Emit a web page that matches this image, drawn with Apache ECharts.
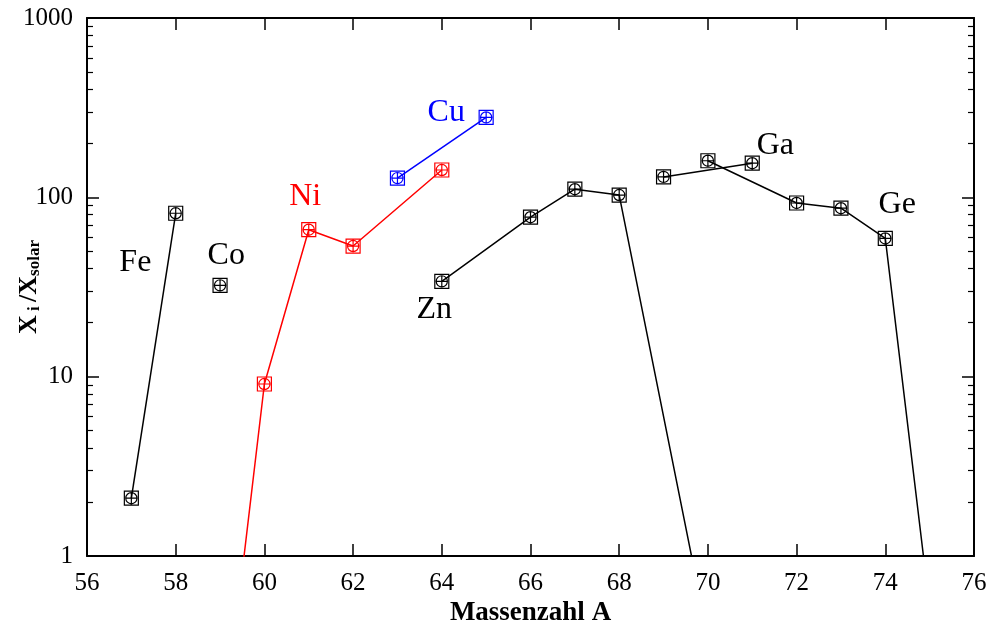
<!DOCTYPE html>
<html><head><meta charset="utf-8">
<script src="https://cdn.jsdelivr.net/npm/echarts@6/dist/echarts.min.js"></script>
<style>html,body{margin:0;padding:0;background:#fff}#c{width:994px;height:625px}</style>
</head><body><div id="c"></div>
<script>
// Data (mass number, X_i/X_solar)
const feMass = [57, 58];        const feVal = [2.1, 81.5];
const coMass = [59];            const coVal = [32.3];
const niMass = [58, 60, 61, 62, 64]; const niVal = [0.0006, 9.1, 66, 53.5, 142];
const cuMass = [63, 65];        const cuVal = [128, 279];
const znMass = [64, 66, 67, 68, 70]; const znVal = [34, 77.5, 111, 103, 0.35];
const gaMass = [69, 71];        const gaVal = [130, 155];
const geMass = [70, 72, 73, 74, 76]; const geVal = [160, 93, 87, 59, 0.0045];
// element label anchors (data coordinates)
const labelNames = ['Fe', 'Co', 'Ni', 'Cu', 'Zn', 'Ga', 'Ge'];
const labelX = [57.09, 59.14, 60.92, 64.10, 63.83, 71.52, 74.27];
const labelY = [43.5, 47.5, 101, 298, 23.8, 195, 91.4];
const labelColors = ['#000', '#000', '#ff0000', '#0000ff', '#000', '#000', '#000'];
const yTickLabels = ['1', '10', '100', '1000'];

const minorLog = [];
for (let d = 0; d < 3; d++) for (let k = 2; k <= 9; k++) minorLog.push(d + Math.log10(k));

const sym = 'path://M0 0H20V20H0Z M10 2A8 8 0 1 1 10 18A8 8 0 1 1 10 2Z M10 2V18M2 10H18';
const font = '"Liberation Serif","DejaVu Serif",serif';

function pairs(xs, ys) { return xs.map((x, i) => [x, ys[i]]); }
function lineSeries(xs, ys, color) {
  return {
    type: 'line', data: pairs(xs, ys), clip: true,
    symbol: sym, symbolSize: 14, showSymbol: true,
    lineStyle: { color: color, width: 1.5 },
    itemStyle: { color: 'rgba(0,0,0,0)', borderColor: color, borderWidth: 1.2 },
    emphasis: { disabled: true }, animation: false, z: 3
  };
}

const chart = echarts.init(document.getElementById('c'));
chart.setOption({
  animation: false,
  grid: { left: 87, right: 20, top: 18, bottom: 69, containLabel: false, outerBoundsMode: 'none' },
  xAxis: [
    { type: 'value', min: 56, max: 76, interval: 2, position: 'bottom',
      name: 'Massenzahl A', nameLocation: 'middle', nameGap: 44, nameMoveOverlap: false,
      nameTextStyle: { fontFamily: font, fontSize: 27, fontWeight: 'bold', color: '#000' },
      axisLine: { show: true, onZero: false, lineStyle: { color: '#000', width: 2 } },
      axisTick: { inside: true, length: 12, lineStyle: { color: '#000', width: 1.5 } },
      axisLabel: { fontFamily: font, fontSize: 25, color: '#000', margin: 15 },
      splitLine: { show: false } },
    { type: 'value', min: 56, max: 76, interval: 2, position: 'top',
      axisLine: { show: true, onZero: false, lineStyle: { color: '#000', width: 2 } },
      axisTick: { inside: true, length: 12, lineStyle: { color: '#000', width: 1.5 } },
      axisLabel: { show: false }, splitLine: { show: false } }
  ],
  yAxis: [
    { type: 'log', logBase: 10, min: 1, max: 1000, position: 'left',
      name: '{b|X}{s| i }{b|/X}{s|solar}', nameLocation: 'middle', nameGap: 44, nameRotate: 90,
      nameMoveOverlap: false,
      nameTextStyle: { rich: {
        b: { fontFamily: font, fontSize: 26, fontWeight: 'bold', color: '#000' },
        s: { fontFamily: font, fontSize: 17, fontWeight: 'bold', color: '#000', verticalAlign: 'bottom', padding: [10, 0, 0, 0] } } },
      axisLine: { show: true, onZero: false, lineStyle: { color: '#000', width: 2 } },
      axisTick: { inside: true, length: 12, lineStyle: { color: '#000', width: 1.5 } },
      axisLabel: { fontFamily: font, fontSize: 25, color: '#000', margin: 14,
        formatter: v => yTickLabels[Math.round(Math.log10(v))] },
      splitLine: { show: false } },
    { type: 'log', logBase: 10, min: 1, max: 1000, position: 'right',
      axisLine: { show: true, onZero: false, lineStyle: { color: '#000', width: 2 } },
      axisTick: { inside: true, length: 12, lineStyle: { color: '#000', width: 1.5 } },
      axisLabel: { show: false }, splitLine: { show: false } },
    { type: 'value', min: 0, max: 3, position: 'left',
      axisLine: { show: false },
      axisTick: { show: true, inside: true, length: 6, customValues: minorLog, lineStyle: { color: '#000', width: 1.2 } },
      axisLabel: { show: false }, splitLine: { show: false } },
    { type: 'value', min: 0, max: 3, position: 'right',
      axisLine: { show: false },
      axisTick: { show: true, inside: true, length: 6, customValues: minorLog, lineStyle: { color: '#000', width: 1.2 } },
      axisLabel: { show: false }, splitLine: { show: false } }
  ],
  series: [
    lineSeries(feMass, feVal, '#000'),
    lineSeries(coMass, coVal, '#000'),
    lineSeries(niMass, niVal, '#ff0000'),
    lineSeries(cuMass, cuVal, '#0000ff'),
    lineSeries(znMass, znVal, '#000'),
    lineSeries(gaMass, gaVal, '#000'),
    lineSeries(geMass, geVal, '#000'),
    { type: 'scatter', symbol: 'circle', symbolSize: 1, silent: true, animation: false,
      itemStyle: { color: 'rgba(0,0,0,0)', opacity: 1 }, z: 4,
      data: labelNames.map((n, i) => ({ value: [labelX[i], labelY[i]], name: n,
        label: { show: true, position: 'inside', formatter: n, fontFamily: font, fontSize: 32, color: labelColors[i] } })) }
  ]
});
</script></body></html>
